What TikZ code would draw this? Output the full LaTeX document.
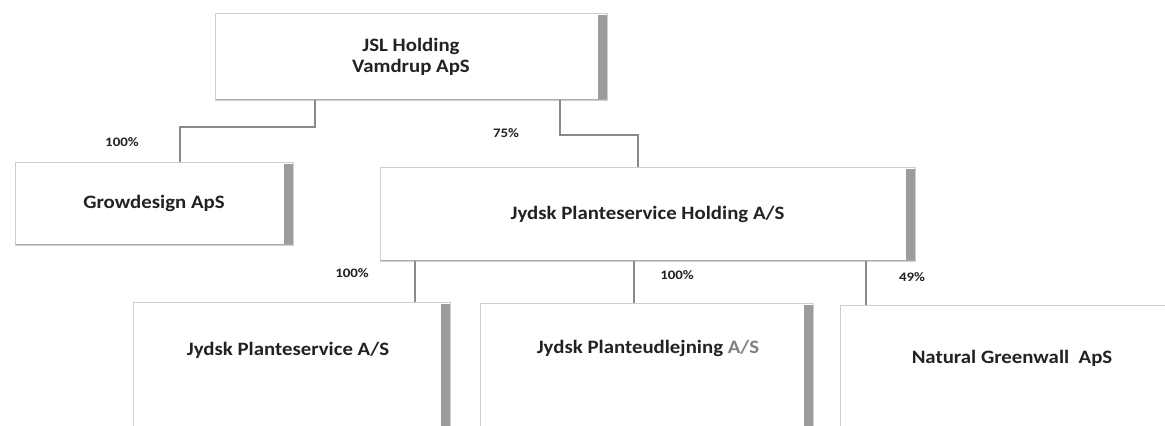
\documentclass[tikz,border=0pt]{standalone}
\usepackage{fontspec}
\setmainfont{Carlito}
\newfontfamily\boxfont{Carlito}[FakeStretch=1.1]
\newfontfamily\pctfont{Carlito}[FakeStretch=1.15]
\usetikzlibrary{calc}
\definecolor{bordercol}{HTML}{CFCFCF}
\definecolor{barcol}{HTML}{9C9C9C}
\definecolor{linecol}{HTML}{8A8A8A}
\definecolor{txtcol}{HTML}{222222}
\tikzset{
  orgbox/.style={draw=bordercol, line width=0.9bp, rectangle, inner sep=0pt,
    text=txtcol, font=\boxfont\fontsize{19}{21}\selectfont\bfseries, align=center,
    path picture={\fill[barcol] ([xshift=-9bp,yshift=-1.5bp]path picture bounding box.north east) rectangle (path picture bounding box.south east);
      \draw[linecol!70, line width=1.2bp] (path picture bounding box.south west) -- (path picture bounding box.south east);}},
  boxtext/.style={text=txtcol, font=\boxfont\fontsize{19}{21}\selectfont\bfseries, inner sep=0pt},
  pct/.style={text=txtcol, font=\pctfont\fontsize{13}{15}\selectfont\bfseries, inner sep=0pt},
  conn/.style={draw=linecol, line width=1.1bp}
}
\begin{document}
\begin{tikzpicture}[x=1bp,y=-1bp]
\useasboundingbox (0,0) rectangle (1165,425);
\clip (0,0) rectangle (1165,425);
\fill[white] (0,0) rectangle (1165,425);
% boxes
\node[orgbox, minimum width=392bp, minimum height=87bp] (jsl) at (411,56.5) {JSL Holding\\Vamdrup ApS};
\node[orgbox, minimum width=278bp, minimum height=83bp] (grow) at (154,203.5) {\raisebox{-4bp}{Growdesign ApS}};
\node[orgbox, minimum width=535bp, minimum height=94bp] (hold) at (647.5,214) {\raisebox{-3bp}{Jydsk Planteservice Holding A/S}};
\node[orgbox, minimum width=317bp, minimum height=158bp] (jp) at (291.5,381) {};
\node[orgbox, minimum width=333bp, minimum height=157bp] (ju) at (646.5,381.5) {};
\node[orgbox, minimum width=360bp, minimum height=155bp] (ng) at (1020,382.5) {};
\node[boxtext] (jpt) at (288,350) {Jydsk Planteservice A/S};
\node[boxtext] (jut) at (648,348) {Jydsk Planteudlejning \textcolor{gray}{A/S}};
\node[boxtext] (ngt) at (1012,358) {Natural Greenwall\ \ ApS};
% connectors
\coordinate (j1) at (315,127);
\coordinate (j2) at (560,135);
\draw[conn] (jsl.south -| j1) -- (j1) -| (grow.north -| 180,0);
\draw[conn] (jsl.south -| j2) -- (j2) -| (hold.north -| 638,0);
\draw[conn] (hold.south -| 415,0) -- (jp.north -| 415,0);
\draw[conn] (hold.south -| 634,0) -- (ju.north -| 634,0);
\draw[conn] (hold.south -| 866,0) -- (ng.north -| 866,0);
% percentages
\node[pct] (p1) at (122,142) {100\%};
\node[pct] (p2) at (506,133) {75\%};
\node[pct] (p3) at (352,273) {100\%};
\node[pct] (p4) at (677,275) {100\%};
\node[pct] (p5) at (912,277) {49\%};
\end{tikzpicture}
\end{document}
